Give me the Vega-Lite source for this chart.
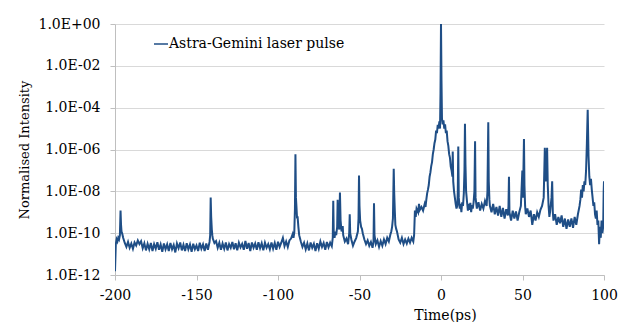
{
"$schema": "https://vega.github.io/schema/vega-lite/v6.json",
"width": 489, "height": 251,
"autosize": {"type": "none"},
"padding": {"left": 115, "top": 24, "right": 15, "bottom": 47},
"background": "white",
"config": {"view": {"stroke": null}, "font": "DejaVu Serif"},
"data": {"values": [
{"t":-200,"v":1.5e-12},{"t":-199.5,"v":3e-11},{"t":-199,"v":5e-11},{"t":-198.5,"v":4e-11},{"t":-198,"v":6e-11},{"t":-197.5,"v":5e-11},{"t":-197,"v":8e-11},{"t":-196.6,"v":1.2e-9},{"t":-196.3,"v":2.5e-10},{"t":-196,"v":1.2e-10},{"t":-195.5,"v":9e-11},{"t":-195,"v":6e-11},
{"t":-194,"v":3.4e-11},{"t":-193,"v":2.2e-11},{"t":-192,"v":3.8e-11},{"t":-191,"v":2e-11},{"t":-190,"v":3.2e-11},{"t":-189,"v":1.8e-11},{"t":-188,"v":3.6e-11},{"t":-187,"v":2.6e-11},{"t":-186,"v":4.5e-11},{"t":-185,"v":3e-11},{"t":-184,"v":4.1e-11},{"t":-183,"v":1.9e-11},{"t":-182,"v":3.3e-11},{"t":-181,"v":1.5e-11},{"t":-180,"v":3.1e-11},{"t":-179,"v":1.7e-11},{"t":-178,"v":3.4e-11},{"t":-177,"v":1.4e-11},{"t":-176,"v":3e-11},{"t":-175,"v":1.8e-11},{"t":-174,"v":3.7e-11},{"t":-173,"v":1.6e-11},{"t":-172,"v":2.9e-11},{"t":-171,"v":1.3e-11},{"t":-170,"v":3.2e-11},{"t":-169,"v":1.7e-11},{"t":-168,"v":2.9e-11},{"t":-167,"v":1.4e-11},{"t":-166,"v":3.4e-11},{"t":-165,"v":1.7e-11},{"t":-164,"v":2.7e-11},{"t":-163,"v":1.2e-11},{"t":-162,"v":3.2e-11},{"t":-161,"v":1.9e-11},{"t":-160,"v":3.6e-11},{"t":-159,"v":1.5e-11},{"t":-158,"v":2.8e-11},{"t":-157,"v":1.4e-11},{"t":-156,"v":3.3e-11},{"t":-155,"v":1.7e-11},{"t":-154,"v":2.9e-11},{"t":-153,"v":1.3e-11},{"t":-152,"v":3.1e-11},{"t":-151,"v":1.7e-11},{"t":-150,"v":2.6e-11},{"t":-149,"v":1.4e-11},{"t":-148,"v":3.5e-11},{"t":-147,"v":1.8e-11},{"t":-146,"v":2.9e-11},{"t":-145,"v":1.4e-11},{"t":-144,"v":3.2e-11},{"t":-143,"v":1.6e-11},{"t":-142,"v":3.8e-11},
{"t":-141.6,"v":8e-11},{"t":-141.3,"v":5e-9},{"t":-141,"v":6e-10},{"t":-140.6,"v":1.5e-10},{"t":-140.3,"v":8e-11},{"t":-140,"v":5.5e-11},
{"t":-139,"v":3.4e-11},{"t":-138,"v":4.2e-11},{"t":-137,"v":2e-11},{"t":-136,"v":3.5e-11},{"t":-135,"v":1.6e-11},{"t":-134,"v":3.2e-11},{"t":-133,"v":1.8e-11},{"t":-132,"v":3.6e-11},{"t":-131,"v":1.5e-11},{"t":-130,"v":3e-11},{"t":-129,"v":2e-11},{"t":-128,"v":3.8e-11},{"t":-127,"v":1.7e-11},{"t":-126,"v":3.3e-11},{"t":-125,"v":1.5e-11},{"t":-124,"v":3.5e-11},{"t":-123,"v":2.1e-11},{"t":-122,"v":3.1e-11},{"t":-121,"v":1.6e-11},{"t":-120,"v":4.2e-11},{"t":-119,"v":1.8e-11},{"t":-118,"v":3.4e-11},{"t":-117,"v":1.4e-11},{"t":-116,"v":3.6e-11},{"t":-115,"v":2e-11},{"t":-114,"v":3.2e-11},{"t":-113,"v":1.6e-11},{"t":-112,"v":3.7e-11},{"t":-111,"v":1.9e-11},{"t":-110,"v":3.3e-11},{"t":-109,"v":1.5e-11},{"t":-108,"v":3.5e-11},{"t":-107,"v":2e-11},{"t":-106,"v":3e-11},{"t":-105,"v":1.7e-11},{"t":-104,"v":3.6e-11},{"t":-103,"v":1.8e-11},{"t":-102,"v":3.4e-11},{"t":-101,"v":1.6e-11},{"t":-100,"v":3.9e-11},{"t":-99,"v":2.2e-11},{"t":-98,"v":3.5e-11},{"t":-97,"v":6e-11},{"t":-96,"v":2.4e-11},{"t":-95,"v":4e-11},{"t":-94,"v":2.2e-11},{"t":-93,"v":4.5e-11},{"t":-92,"v":5.5e-11},{"t":-91.5,"v":7e-11},{"t":-91,"v":9e-11},{"t":-90.5,"v":6e-11},{"t":-90,"v":1.1e-10},
{"t":-89.6,"v":1.5e-9},{"t":-89.3,"v":6e-7},{"t":-89,"v":5e-9},{"t":-88.7,"v":2e-9},{"t":-88.3,"v":5e-10},{"t":-88,"v":6.3e-10},{"t":-87.5,"v":2e-10},{"t":-87,"v":8e-11},
{"t":-86,"v":4e-11},{"t":-85,"v":2.2e-11},{"t":-84,"v":3.5e-11},{"t":-83,"v":1.7e-11},{"t":-82,"v":3.2e-11},{"t":-81,"v":1.5e-11},{"t":-80,"v":3.6e-11},{"t":-79,"v":2e-11},{"t":-78,"v":3.1e-11},{"t":-77,"v":1.4e-11},{"t":-76,"v":3.3e-11},{"t":-75,"v":1.8e-11},{"t":-74,"v":4e-11},{"t":-73,"v":2.2e-11},{"t":-72,"v":3.4e-11},{"t":-71,"v":1.6e-11},{"t":-70,"v":3.8e-11},{"t":-69,"v":2.1e-11},{"t":-68,"v":3.5e-11},{"t":-67,"v":2.4e-11},
{"t":-66.4,"v":6e-11},{"t":-66.1,"v":3.5e-9},{"t":-65.8,"v":1e-10},{"t":-65.3,"v":6e-11},{"t":-64.8,"v":1.2e-10},{"t":-64.3,"v":8e-11},{"t":-63.7,"v":2e-10},{"t":-63.4,"v":4e-9},{"t":-63.1,"v":3e-10},{"t":-62.4,"v":1.5e-10},{"t":-62,"v":8.7e-9},{"t":-61.6,"v":4e-10},{"t":-61,"v":1.2e-10},{"t":-60.6,"v":1.5e-10},{"t":-60.3,"v":2.2e-10},{"t":-60,"v":8e-11},{"t":-59,"v":4e-11},{"t":-58,"v":5.5e-11},{"t":-57,"v":3e-11},{"t":-56.3,"v":1e-10},{"t":-56,"v":8e-10},{"t":-55.7,"v":1e-10},{"t":-55,"v":5e-11},{"t":-54,"v":2.5e-11},{"t":-53,"v":4e-11},{"t":-52,"v":6e-11},{"t":-51,"v":1.2e-10},{"t":-50.6,"v":5e-10},{"t":-50.3,"v":5.7e-8},{"t":-50,"v":2e-9},{"t":-49.6,"v":4e-10},{"t":-49,"v":2e-10},{"t":-48.5,"v":1.6e-10},{"t":-48,"v":1e-10},{"t":-47,"v":5e-11},{"t":-46,"v":3e-11},{"t":-45,"v":4.5e-11},{"t":-44,"v":2.5e-11},{"t":-43,"v":3.8e-11},{"t":-42,"v":2e-11},{"t":-41.4,"v":4e-11},{"t":-41.1,"v":2.7e-9},{"t":-40.8,"v":8e-11},{"t":-40,"v":3e-11},{"t":-39,"v":4.5e-11},{"t":-38,"v":2.2e-11},{"t":-37,"v":4.2e-11},{"t":-36,"v":2.5e-11},{"t":-35,"v":5e-11},{"t":-34,"v":3e-11},{"t":-33,"v":6e-11},{"t":-32,"v":4e-11},{"t":-31,"v":9e-11},{"t":-30.5,"v":1.2e-10},{"t":-30,"v":2e-10},{"t":-29.5,"v":5e-10},{"t":-29,"v":1.2e-7},{"t":-28.7,"v":8e-9},{"t":-28.3,"v":1e-9},{"t":-28,"v":2.5e-10},{"t":-27.5,"v":1.6e-10},{"t":-27,"v":1.2e-10},{"t":-26,"v":5e-11},{"t":-25,"v":3.5e-11},{"t":-24,"v":6e-11},{"t":-23,"v":3e-11},{"t":-22,"v":5e-11},{"t":-21,"v":3.2e-11},{"t":-20,"v":5.5e-11},{"t":-19,"v":3.5e-11},{"t":-18,"v":6e-11},{"t":-17,"v":4e-11},{"t":-16.5,"v":8e-11},
{"t":-16,"v":1.2e-9},{"t":-15.5,"v":6e-10},{"t":-15,"v":1.5e-9},{"t":-14,"v":1e-9},{"t":-13.5,"v":2.5e-9},{"t":-13,"v":1.3e-9},{"t":-12,"v":1.8e-9},{"t":-11,"v":1.2e-9},{"t":-10,"v":2.5e-9},{"t":-9.5,"v":1.8e-9},{"t":-9,"v":4e-9},{"t":-8.5,"v":8e-9},{"t":-8,"v":1.2e-8},{"t":-7.5,"v":2e-8},{"t":-7,"v":5e-8},{"t":-6.5,"v":8e-8},{"t":-6,"v":1.6e-7},{"t":-5.5,"v":2.5e-7},{"t":-5,"v":6e-7},{"t":-4.5,"v":1e-6},{"t":-4,"v":2e-6},{"t":-3.5,"v":3e-6},{"t":-3,"v":8e-6},{"t":-2.5,"v":6e-6},{"t":-2,"v":1.5e-5},{"t":-1.5,"v":1e-5},{"t":-1,"v":2.2e-5},{"t":-0.6,"v":1e-5},{"t":-0.3,"v":5e-4},{"t":0,"v":1},{"t":0.3,"v":2e-3},{"t":0.6,"v":3e-5},{"t":1,"v":1.6e-5},{"t":1.5,"v":2.5e-5},{"t":2,"v":1e-5},{"t":2.5,"v":1.6e-5},{"t":3,"v":6e-6},{"t":3.5,"v":8e-6},{"t":4,"v":2.5e-6},{"t":4.5,"v":1.5e-6},{"t":5,"v":6e-7},{"t":5.5,"v":4e-7},{"t":6,"v":1.5e-7},{"t":6.5,"v":1e-7},{"t":7,"v":5e-8},{"t":7.2,"v":8e-7},{"t":7.5,"v":3e-8},{"t":8,"v":1e-8},{"t":8.5,"v":5e-9},{"t":9,"v":2.5e-9},{"t":9.5,"v":1.5e-9},{"t":10,"v":2e-9},{"t":10.3,"v":1e-8},{"t":10.6,"v":1.4e-6},{"t":10.9,"v":5e-9},{"t":11.5,"v":1.5e-9},{"t":12,"v":2.5e-9},{"t":12.5,"v":1e-9},{"t":13,"v":3e-9},{"t":13.5,"v":2e-9},{"t":14,"v":8e-9},{"t":14.4,"v":1e-7},{"t":14.7,"v":1.7e-5},{"t":15,"v":2e-7},{"t":15.4,"v":1e-8},{"t":16,"v":3e-9},{"t":16.5,"v":1.2e-9},{"t":17,"v":2.5e-9},{"t":17.5,"v":1.3e-9},{"t":18,"v":2.8e-9},{"t":18.5,"v":1e-9},{"t":19,"v":2.2e-9},{"t":19.5,"v":1.5e-9},{"t":20,"v":3e-9},{"t":20.5,"v":1e-8},{"t":20.9,"v":2.5e-6},{"t":21.2,"v":5e-9},{"t":22,"v":1.5e-9},{"t":23,"v":3e-9},{"t":24,"v":1.2e-9},{"t":25,"v":2.5e-9},{"t":26,"v":1.5e-9},{"t":27,"v":3.5e-9},{"t":28,"v":2e-9},{"t":28.5,"v":1e-8},{"t":29,"v":2e-5},{"t":29.3,"v":3e-8},{"t":29.7,"v":4e-9},{"t":30,"v":2e-9},{"t":31,"v":1e-9},{"t":32,"v":2.5e-9},{"t":33,"v":8e-10},{"t":34,"v":1.8e-9},{"t":35,"v":7e-10},{"t":36,"v":2e-9},{"t":37,"v":6e-10},{"t":38,"v":1.6e-9},{"t":39,"v":5e-10},{"t":40,"v":1.4e-9},{"t":41,"v":7e-10},{"t":41.4,"v":2e-9},{"t":41.7,"v":5e-8},{"t":42,"v":1e-9},{"t":43,"v":4e-10},{"t":44,"v":1.2e-9},{"t":45,"v":5e-10},{"t":46,"v":1.1e-9},{"t":47,"v":4e-10},{"t":48,"v":1e-9},{"t":49,"v":2e-9},{"t":49.9,"v":1e-7},{"t":50.3,"v":5e-9},{"t":50.9,"v":3.2e-6},{"t":51.2,"v":2e-8},{"t":51.6,"v":2e-9},{"t":52,"v":8e-10},{"t":53,"v":1.5e-9},{"t":54,"v":6e-10},{"t":55,"v":1.2e-9},{"t":56,"v":2.5e-10},{"t":57,"v":8e-10},{"t":58,"v":4e-10},{"t":59,"v":1e-9},{"t":60,"v":6e-10},{"t":61,"v":1.3e-9},{"t":62,"v":2e-9},{"t":63,"v":5e-9},{"t":63.7,"v":1.2e-6},{"t":64.2,"v":3e-8},{"t":65.1,"v":1.2e-6},{"t":65.5,"v":2e-8},{"t":66,"v":2e-9},{"t":66.5,"v":6e-10},{"t":67,"v":1.2e-9},{"t":67.8,"v":5e-9},{"t":68.2,"v":3e-8},{"t":68.6,"v":1e-9},{"t":69,"v":4e-10},{"t":70,"v":8e-10},{"t":71,"v":2.5e-10},{"t":72,"v":6e-10},{"t":73,"v":3e-10},{"t":74,"v":7e-10},{"t":75,"v":2e-10},{"t":76,"v":5e-10},{"t":77,"v":1.6e-10},{"t":78,"v":4.5e-10},{"t":79,"v":2e-10},{"t":80,"v":5e-10},{"t":81,"v":1.8e-10},{"t":82,"v":6e-10},{"t":83,"v":2.5e-10},{"t":84,"v":8e-10},{"t":85,"v":2e-9},{"t":85.5,"v":4e-9},{"t":86,"v":1.2e-8},{"t":86.5,"v":5e-9},{"t":87,"v":2e-8},{"t":87.5,"v":1e-8},{"t":88,"v":3e-8},{"t":88.5,"v":2e-8},{"t":89,"v":1e-7},{"t":89.5,"v":2e-6},{"t":90,"v":8e-5},{"t":90.5,"v":5e-7},{"t":91,"v":5e-8},{"t":91.5,"v":2e-8},{"t":92,"v":4e-8},{"t":92.5,"v":1.2e-8},{"t":93,"v":5e-9},{"t":93.5,"v":2e-9},{"t":94,"v":3e-9},{"t":94.5,"v":8e-10},{"t":95,"v":5e-10},{"t":95.5,"v":1.2e-9},{"t":96,"v":2.5e-10},{"t":96.5,"v":4e-10},{"t":97,"v":3e-11},{"t":97.5,"v":2e-10},{"t":98,"v":6e-11},{"t":98.5,"v":4e-10},{"t":99,"v":1e-10},{"t":99.5,"v":2e-10},{"t":99.8,"v":1e-8},{"t":100,"v":3e-8}
]},
"mark": {"type": "line", "strokeWidth": 2, "clip": true},
"encoding": {
  "x": {"field": "t", "type": "quantitative",
    "scale": {"domain": [-200, 100], "nice": false, "zero": false},
    "axis": {"values": [-200, -150, -100, -50, 0, 50, 100], "grid": false, "title": "Time(ps)",
      "labelExpr": "datum.value + ''",
      "titleFont": "DejaVu Serif", "titleFontSize": 14, "titleFontWeight": "normal", "titleColor": "black",
      "titleX": 330, "titleY": 44, "titleBaseline": "alphabetic",
      "labelFont": "DejaVu Serif", "labelFontSize": 14, "labelColor": "black", "labelPadding": 8,
      "domainColor": "#bfbfbf", "tickColor": "#bfbfbf", "tickSize": 5, "labelFlush": false}},
  "y": {"field": "v", "type": "quantitative",
    "scale": {"type": "log", "domain": [1e-12, 1], "nice": false},
    "axis": {"values": [1, 1e-2, 1e-4, 1e-6, 1e-8, 1e-10, 1e-12], "title": "Normalised Intensity",
      "labelExpr": "'1.0E' + (round(log(datum.value)/LN10) >= 0 ? '+' : '-') + (abs(round(log(datum.value)/LN10)) < 10 ? '0' : '') + abs(round(log(datum.value)/LN10))",
      "titleFont": "DejaVu Serif", "titleFontSize": 13, "titleFontWeight": "normal", "titleColor": "black", "titlePadding": 6,
      "labelFont": "DejaVu Serif", "labelFontSize": 14, "labelColor": "black", "labelPadding": 10,
      "grid": true, "gridColor": "#d9d9d9", "domainColor": "#bfbfbf", "tickColor": "#bfbfbf", "tickSize": 5}},
  "color": {"datum": "Astra-Gemini laser pulse", "type": "nominal",
    "scale": {"range": ["#1F4E86"]},
    "legend": {"title": null, "orient": "none", "legendX": 38, "legendY": 12,
      "symbolType": "stroke", "symbolSize": 196, "symbolStrokeWidth": 1.5, "labelLimit": 400,
      "labelFont": "DejaVu Serif", "labelFontSize": 14, "labelColor": "black", "labelOffset": 0, "padding": 0}}
}
}
